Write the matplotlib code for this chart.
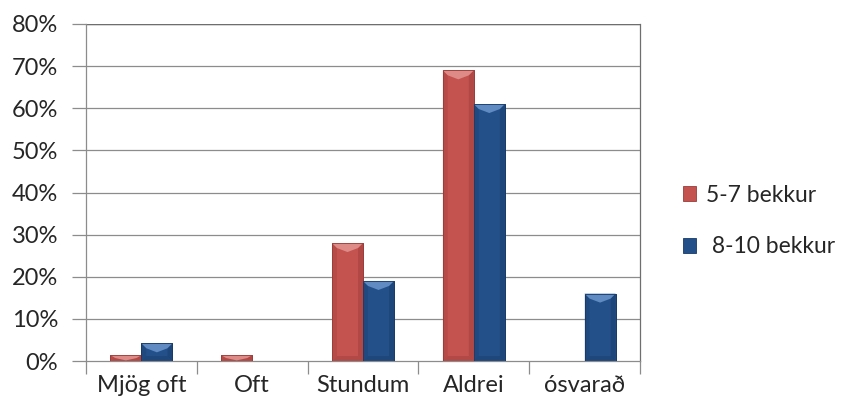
import matplotlib
matplotlib.use("Agg")
import matplotlib.pyplot as plt
from matplotlib.patches import Polygon, Rectangle
import numpy as np

categories = ["Mjög oft", "Oft", "Stundum", "Aldrei", "ósvarað"]
grade_5_7 = [1.4, 1.4, 28, 69, 0]
grade_8_10 = [4.2, 0, 19, 61, 16]
series_labels = ["5-7 bekkur", " 8-10 bekkur"]
y_ticks = [0, 10, 20, 30, 40, 50, 60, 70, 80]

RED = "#C4524F"
RED_LIGHT = "#DE8A87"
RED_DARK = "#9A3C39"
BLUE = "#24508A"
BLUE_LIGHT = "#5F8AC2"
BLUE_DARK = "#163A68"

plt.rcParams["font.family"] = ["Lato", "DejaVu Sans"]

fig = plt.figure(figsize=(8.43, 4.17), dpi=100)
ax = fig.add_axes([86 / 843, 1 - 361 / 417, (640 - 86) / 843, (361 - 24) / 417])

x = np.arange(len(categories))
w = 0.28

ax.set_xlim(-0.5, len(categories) - 0.5)
ax.set_ylim(0, 80)

for yv in y_ticks[1:]:
    ax.axhline(yv, color="#8C8C8C", lw=0.9, zorder=0)


def bevel_bar(x0, height, color, light, dark):
    if height <= 0:
        return
    x1 = x0 + w
    ax.add_patch(Rectangle((x0, 0), w, height, facecolor=color,
                           edgecolor=dark, lw=0.6, zorder=2))
    # bevel sizes in pixels converted to data units
    inv = ax.transData.inverted()
    p0 = inv.transform((0, 0))
    p1 = inv.transform((5, 5))
    bx = p1[0] - p0[0]
    by = min(p1[1] - p0[1], height / 2)
    # darker side strips and bottom
    ax.add_patch(Polygon([(x0, 0), (x0 + bx, by), (x0 + bx, height - by), (x0, height)],
                         closed=True, facecolor=dark, alpha=0.3, lw=0, zorder=3))
    ax.add_patch(Polygon([(x1, 0), (x1 - bx, by), (x1 - bx, height - by), (x1, height)],
                         closed=True, facecolor=dark, alpha=0.45, lw=0, zorder=3))
    ax.add_patch(Polygon([(x0, 0), (x1, 0), (x1 - bx, by), (x0 + bx, by)],
                         closed=True, facecolor=dark, alpha=0.4, lw=0, zorder=3))
    # lighter top bevel with a shallow chevron
    mid = (x0 + x1) / 2
    ax.add_patch(Polygon([(x0, height), (x1, height), (x1 - bx, height - by),
                          (mid, height - 1.8 * by), (x0 + bx, height - by)],
                         closed=True, facecolor=light, lw=0, zorder=3))
    ax.add_patch(Rectangle((x0, 0), w, height, facecolor="none",
                           edgecolor=dark, lw=0.6, zorder=4))


for i in range(len(categories)):
    bevel_bar(x[i] - w, grade_5_7[i], RED, RED_LIGHT, RED_DARK)
    bevel_bar(x[i], grade_8_10[i], BLUE, BLUE_LIGHT, BLUE_DARK)

for s in ["left", "bottom", "top", "right"]:
    ax.spines[s].set_color("#8C8C8C")
    ax.spines[s].set_linewidth(0.9)
ax.spines["top"].set_visible(False)
ax.axhline(80, color="#6E6E6E", lw=1.0, zorder=1)
ax.spines["right"].set_color("#6E6E6E")

ax.set_yticks(y_ticks)
ax.set_yticklabels([f"{v}%" for v in y_ticks], fontsize=17, color="#262626")
ax.tick_params(axis="y", length=10, width=0.9, color="#8C8C8C", pad=10)

ax.set_xticks(np.arange(-0.5, len(categories) + 0.5, 1.0))
ax.set_xticklabels([])
ax.tick_params(axis="x", which="major", length=9, width=0.9, color="#8C8C8C")
ax.set_xticks(x, minor=True)
ax.set_xticklabels(categories, minor=True, fontsize=17, color="#262626")
ax.tick_params(axis="x", which="minor", length=0, pad=10)

handles = [
    Rectangle((0, 0), 1, 1, facecolor=RED, edgecolor=RED_DARK, lw=0.6),
    Rectangle((0, 0), 1, 1, facecolor=BLUE, edgecolor=BLUE_DARK, lw=0.6),
]
fig.legend(handles, series_labels, loc="center left",
           bbox_to_anchor=(662 / 843, 1 - 221 / 417), frameon=False,
           fontsize=16.5, handlelength=0.6, handleheight=0.6, handletextpad=0.4,
           labelspacing=1.35, labelcolor="#262626")

fig.savefig("out.png", dpi=100, facecolor="white")
